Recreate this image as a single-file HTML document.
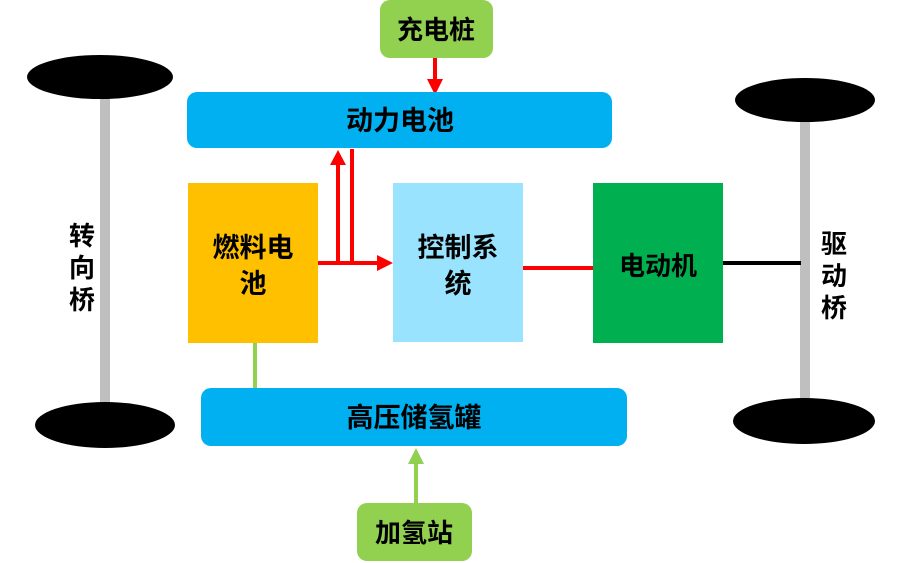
<!DOCTYPE html>
<html><head><meta charset="utf-8"><style>
html,body{margin:0;padding:0;background:#fff;}
svg{display:block}
text{font-family:"Liberation Sans","Noto Sans CJK SC",sans-serif;font-weight:bold;fill:#000;}
</style></head><body>
<svg width="900" height="563" viewBox="0 0 900 563" xmlns="http://www.w3.org/2000/svg">
<rect x="100" y="95" width="10" height="310" fill="#BFBFBF"/>
<ellipse cx="100" cy="77" rx="73" ry="22" fill="#000"/>
<ellipse cx="105" cy="425" rx="70" ry="23" fill="#000"/>
<text x="82" y="245" font-size="26" text-anchor="middle">转</text>
<text x="82" y="277" font-size="26" text-anchor="middle">向</text>
<text x="82" y="309" font-size="26" text-anchor="middle">桥</text>
<rect x="800" y="115" width="10" height="290" fill="#BFBFBF"/>
<ellipse cx="805" cy="100" rx="70" ry="22" fill="#000"/>
<ellipse cx="804" cy="421" rx="71" ry="23" fill="#000"/>
<text x="834" y="253" font-size="26" text-anchor="middle">驱</text>
<text x="834" y="285" font-size="26" text-anchor="middle">动</text>
<text x="834" y="317" font-size="26" text-anchor="middle">桥</text>
<line x1="435" y1="58" x2="435" y2="80" stroke="#FF0000" stroke-width="4"/>
<polygon points="427,79 443,79 435,95" fill="#FF0000"/>
<line x1="338" y1="263" x2="338" y2="163" stroke="#FF0000" stroke-width="4"/>
<polygon points="330,165 346,165 338,150" fill="#FF0000"/>
<line x1="352" y1="149" x2="352" y2="263" stroke="#FF0000" stroke-width="4"/>
<line x1="318" y1="263" x2="378" y2="263" stroke="#FF0000" stroke-width="4"/>
<polygon points="377,255 377,271 393,263" fill="#FF0000"/>
<line x1="523" y1="268" x2="594" y2="268" stroke="#FF0000" stroke-width="4"/>
<line x1="723" y1="263" x2="801" y2="263" stroke="#000" stroke-width="4"/>
<line x1="255" y1="343" x2="255" y2="389" stroke="#92D050" stroke-width="4"/>
<line x1="416" y1="503" x2="416" y2="462" stroke="#92D050" stroke-width="4"/>
<polygon points="408,464 424,464 416,448" fill="#92D050"/>
<rect x="380" y="0" width="113" height="58" rx="10" fill="#92D050"/>
<text x="436" y="39" font-size="26" text-anchor="middle">充电桩</text>
<rect x="187" y="92" width="425" height="56" rx="10" fill="#00B0F0"/>
<text x="400" y="130" font-size="27" text-anchor="middle">动力电池</text>
<rect x="188" y="183" width="130" height="160" fill="#FFC000"/>
<text x="253" y="257" font-size="27" text-anchor="middle">燃料电</text>
<text x="253" y="293" font-size="27" text-anchor="middle">池</text>
<rect x="393" y="183" width="130" height="159" fill="#99E3FE"/>
<text x="458" y="257" font-size="27" text-anchor="middle">控制系</text>
<text x="458" y="293" font-size="27" text-anchor="middle">统</text>
<rect x="593" y="183" width="130" height="160" fill="#00B050"/>
<text x="658" y="275" font-size="26" text-anchor="middle">电动机</text>
<rect x="201" y="388" width="426" height="58" rx="10" fill="#00B0F0"/>
<text x="414" y="427" font-size="27" text-anchor="middle">高压储氢罐</text>
<rect x="357" y="503" width="115" height="58" rx="10" fill="#92D050"/>
<text x="414" y="542" font-size="26" text-anchor="middle">加氢站</text>
</svg>
</body></html>
